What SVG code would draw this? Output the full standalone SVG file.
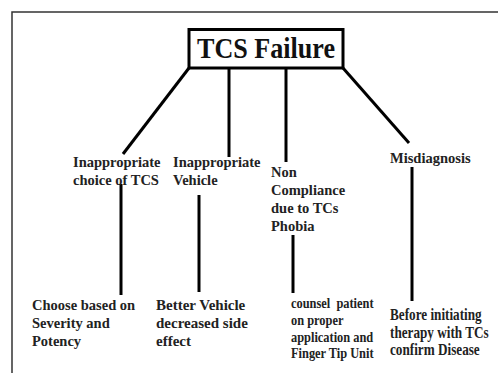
<svg xmlns="http://www.w3.org/2000/svg" width="498" height="373" viewBox="0 0 498 373">
<rect width="498" height="373" fill="#fff"/>
<path d="M12 373 V12 H498" fill="none" stroke="#333" stroke-width="1.5"/>
<g id="root">
<rect x="189" y="29.5" width="154" height="38.5" fill="#fff" stroke="#000" stroke-width="3"/>
<text x="266" y="58" text-anchor="middle" font-family="Liberation Serif" font-weight="bold" font-size="30" fill="#111" textLength="138" lengthAdjust="spacingAndGlyphs">TCS Failure</text>
</g>
<g id="connectors" stroke="#000" stroke-width="3">
<line x1="189" y1="68" x2="123" y2="154"/>
<line x1="229" y1="68" x2="229" y2="157"/>
<line x1="286" y1="68" x2="286" y2="162"/>
<line x1="343" y1="68" x2="409" y2="143"/>
<line x1="121" y1="184" x2="121" y2="295"/>
<line x1="199" y1="195" x2="199" y2="292"/>
<line x1="293" y1="235" x2="293" y2="293"/>
<line x1="412" y1="167" x2="412" y2="301"/>
</g>
<g font-family="Liberation Serif" font-weight="bold" font-size="14.5" fill="#222">
<g id="n1"><text x="73" y="167">Inappropriate</text><text x="73" y="185">choice of TCS</text></g>
<g id="n2"><text x="173" y="167">Inappropriate</text><text x="173" y="185">Vehicle</text></g>
<g id="n3"><text x="271" y="177">Non</text><text x="271" y="195">Compliance</text><text x="271" y="213">due to TCs</text><text x="271" y="231">Phobia</text></g>
<g id="n4"><text x="390" y="163">Misdiagnosis</text></g>
<g id="n5"><text x="32" y="310">Choose based on</text><text x="32" y="328">Severity and</text><text x="32" y="346">Potency</text></g>
<g id="n6" font-size="15"><text x="156" y="310">Better Vehicle</text><text x="156" y="328">decreased side</text><text x="156" y="346">effect</text></g>
<g id="n7" font-size="12.4">
<text transform="translate(291 308) scale(1 1.25)" xml:space="preserve">counsel  patient</text>
<text transform="translate(291 325) scale(1 1.25)">on proper</text>
<text transform="translate(291 342) scale(1 1.25)">application and</text>
<text transform="translate(291 358) scale(1 1.25)">Finger Tip Unit</text>
</g>
<g id="n8" font-size="13.2">
<text transform="translate(390 320) scale(1 1.2)">Before initiating</text>
<text transform="translate(390 337.5) scale(1 1.2)">therapy with TCs</text>
<text transform="translate(390 355) scale(1 1.2)">confirm Disease</text>
</g>
</g>
</svg>
